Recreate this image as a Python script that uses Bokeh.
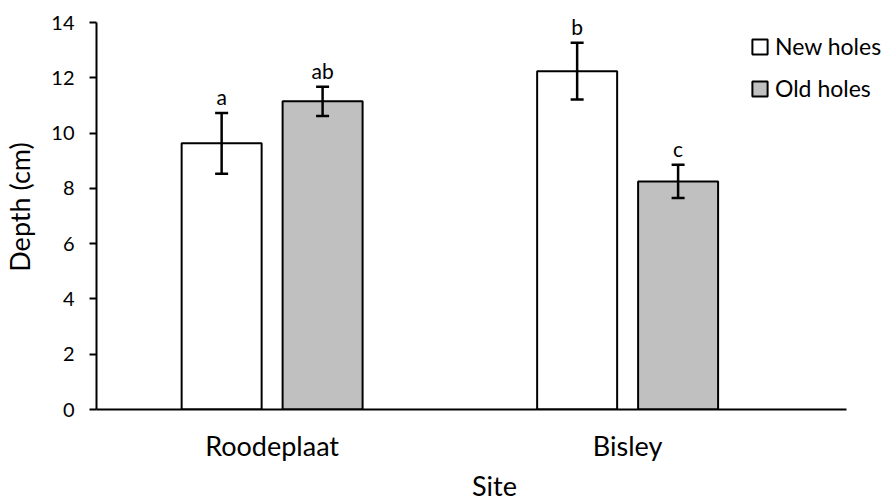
from bokeh.plotting import figure
from bokeh.models import ColumnDataSource, Range1d, FixedTicker, Whisker, TeeHead, Legend, LegendItem
from bokeh.transform import dodge
from bokeh.core.properties import value
from bokeh.embed import file_html
from bokeh.resources import INLINE

sites = ["Roodeplaat", "Bisley"]
new_mean = [9.63, 12.24]
new_err = [1.1, 1.03]
old_mean = [11.15, 8.25]
old_err = [0.53, 0.6]
new_letters = ["a", "b"]
old_letters = ["ab", "c"]
y_ticks = [0, 2, 4, 6, 8, 10, 12, 14]

FONT = "Lato"
xpos = [i + 0.5 for i in range(len(sites))]

src_new = ColumnDataSource(dict(x=xpos, top=new_mean,
                                lo=[m - e for m, e in zip(new_mean, new_err)],
                                hi=[m + e for m, e in zip(new_mean, new_err)],
                                lab=new_letters))
src_old = ColumnDataSource(dict(x=xpos, top=old_mean,
                                lo=[m - e for m, e in zip(old_mean, old_err)],
                                hi=[m + e for m, e in zip(old_mean, old_err)],
                                lab=old_letters))

X0, X1 = 0.006, 2.116              # extent of the drawn x axis
XEND = X0 + (X1 - X0) * 798 / 752  # frame extends to the right edge for the legend
Y0, Y1 = 0, 14                     # extent of the drawn y axis
YEND = Y1 * 405 / 387              # room above the axis for the letters

p = figure(width=892, height=504, output_backend="svg", toolbar_location=None,
           x_range=Range1d(X0, XEND), y_range=Range1d(Y0, YEND),
           min_border_left=94, min_border_right=0, min_border_top=4, min_border_bottom=95)
p.outline_line_color = None
p.grid.grid_line_color = None
p.background_fill_color = "white"

off = 0.142
w = 0.225
r_new = p.vbar(x=dodge("x", -off), top="top", width=w, source=src_new,
               fill_color="white", line_color="black", line_width=2)
r_old = p.vbar(x=dodge("x", off), top="top", width=w, source=src_old,
               fill_color="#C0C0C0", line_color="black", line_width=2)

for src, d in ((src_new, -off), (src_old, off)):
    wk = Whisker(base=dodge("x", d), lower="lo", upper="hi", source=src,
                 line_color="black", line_width=2.5, level="overlay",
                 upper_head=TeeHead(size=13, line_width=2.5, line_color="black"),
                 lower_head=TeeHead(size=13, line_width=2.5, line_color="black"))
    p.add_layout(wk)
    p.text(x=dodge("x", d), y="hi", text="lab", source=src, text_align="center",
           text_baseline="bottom", y_offset=-4, text_font=value(FONT),
           text_font_size="21px", text_color="black")

p.yaxis.ticker = FixedTicker(ticks=y_ticks)
p.yaxis.axis_label = "Depth (cm)"
p.yaxis.bounds = (Y0, Y1)
p.xaxis.ticker = FixedTicker(ticks=xpos)
p.xaxis.major_label_overrides = {x: s for x, s in zip(xpos, sites)}
p.xaxis.axis_label = "Site"
p.xaxis.bounds = (X0, X1)

for ax in (p.xaxis[0], p.yaxis[0]):
    ax.axis_line_color = "black"
    ax.axis_line_width = 2
    ax.major_label_text_font = FONT
    ax.major_label_text_color = "black"
    ax.axis_label_text_font = FONT
    ax.axis_label_text_font_style = "normal"
    ax.axis_label_text_color = "black"
    ax.axis_label_text_font_size = "27px"
    ax.minor_tick_line_color = None

p.yaxis.major_tick_in = 0
p.yaxis.major_tick_out = 7
p.yaxis.major_tick_line_width = 2
p.yaxis.major_tick_line_color = "black"
p.yaxis.major_label_text_font_size = "20px"
p.yaxis.major_label_standoff = 15
p.yaxis.axis_label_standoff = 12

p.xaxis.major_tick_in = 0
p.xaxis.major_tick_out = 0
p.xaxis.major_tick_line_color = None
p.xaxis.major_label_text_font_size = "27px"
p.xaxis.major_label_standoff = 19
p.xaxis.axis_label_standoff = 4

legend = Legend(items=[LegendItem(label="New holes", renderers=[r_new]),
                       LegendItem(label="Old holes", renderers=[r_old])],
                location=(654, 307), padding=0, margin=0, border_line_color=None,
                background_fill_alpha=0, glyph_width=19, glyph_height=19,
                label_standoff=6, label_height=27, spacing=14,
                label_text_font=FONT, label_text_font_size="23px", label_text_color="black")
p.add_layout(legend, "center")

open("out.html", "w").write(file_html(p, INLINE))
